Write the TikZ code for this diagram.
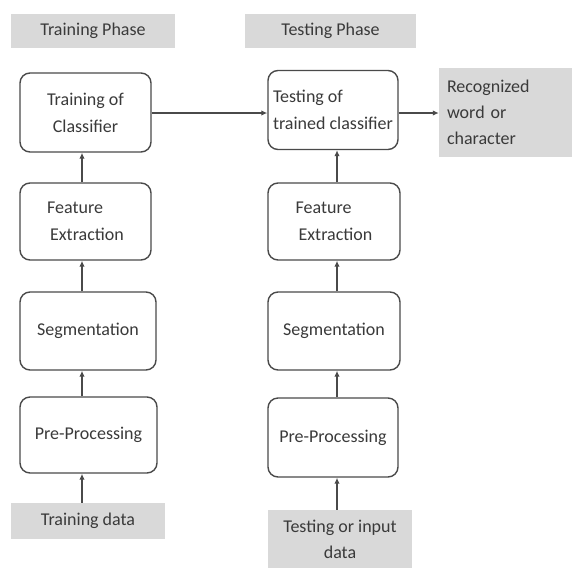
\documentclass[tikz,border=0pt]{standalone}
\usepackage{fontspec}
\setmainfont{Carlito}
\usetikzlibrary{arrows.meta,calc}
\definecolor{boxgray}{HTML}{D9D9D9}
\definecolor{linegray}{HTML}{4A4A4A}
\definecolor{txt}{HTML}{3A3A3A}
\tikzset{
  box/.style={draw=linegray, line width=1.4pt, rounded corners=10pt, fill=white,
    inner sep=3pt, align=center, text=txt, font=\fontsize{18}{27}\selectfont},
  graybox/.style={fill=boxgray, draw=none, inner sep=3pt, align=center, text=txt,
    font=\fontsize{18}{26}\selectfont},
  arr/.style={draw=linegray, line width=1.4pt, -{Latex[length=6pt,width=5.5pt]}}
}
\begin{document}
\begin{tikzpicture}[x=1pt,y=-1pt]
\useasboundingbox (0,0) rectangle (572,568);
% phase headers
\node[graybox, minimum width=164pt, minimum height=34pt] (trainphase) at (93,31) {Training Phase};
\node[graybox, minimum width=171pt, minimum height=34pt] (testphase) at (330.5,31) {Testing Phase};
% training column
\node[box, minimum width=131pt, minimum height=79pt] (tc) at (85.5,112.5) {Training of\\Classifier};
\node[box, minimum width=131pt, minimum height=77pt, align=left] (fe1) at (85.5,221.5) {Feature\\\,Extraction};
\node[box, minimum width=136pt, minimum height=78pt] (seg1) at (88,331) {Segmentation};
\node[box, minimum width=137pt, minimum height=76pt] (pp1) at (88.5,435) {Pre-Processing};
\node[graybox, minimum width=154pt, minimum height=36pt] (td) at (88,521) {Training data};
% testing column
\node[box, minimum width=130pt, minimum height=79pt, align=left, inner sep=1pt] (ttc) at (333,110) {Testing of\\trained classifier};
\node[box, minimum width=132pt, minimum height=77pt, align=left] (fe2) at (334,221.5) {Feature\\\,Extraction};
\node[box, minimum width=132pt, minimum height=78pt] (seg2) at (334,331) {Segmentation};
\node[box, minimum width=130pt, minimum height=79pt] (pp2) at (333,437.5) {Pre-Processing};
\node[graybox, minimum width=144pt, minimum height=58pt] (tid) at (340,539) {Testing or input\\data};
% result
\node[graybox, text width=117pt, inner sep=8pt, minimum height=89pt, align=left] (rec) at (505.5,112.5) {Recognized\\word or\\character};
% arrow columns
\coordinate (lx) at (82,0);
\coordinate (rx) at (337,0);
\coordinate (hy) at (0,113);
% training arrows
\draw[arr] (td.north -| lx) -- (pp1.south -| lx);
\draw[arr] (pp1.north -| lx) -- (seg1.south -| lx);
\draw[arr] (seg1.north -| lx) -- (fe1.south -| lx);
\draw[arr] (fe1.north -| lx) -- (tc.south -| lx);
% testing arrows
\draw[arr] (tid.north -| rx) -- (pp2.south -| rx);
\draw[arr] (pp2.north -| rx) -- (seg2.south -| rx);
\draw[arr] (seg2.north -| rx) -- (fe2.south -| rx);
\draw[arr] (fe2.north -| rx) -- (ttc.south -| rx);
% horizontal arrows
\draw[arr] (tc.east |- hy) -- (ttc.west |- hy);
\draw[arr] (ttc.east |- hy) -- (rec.west |- hy);
\end{tikzpicture}
\end{document}
